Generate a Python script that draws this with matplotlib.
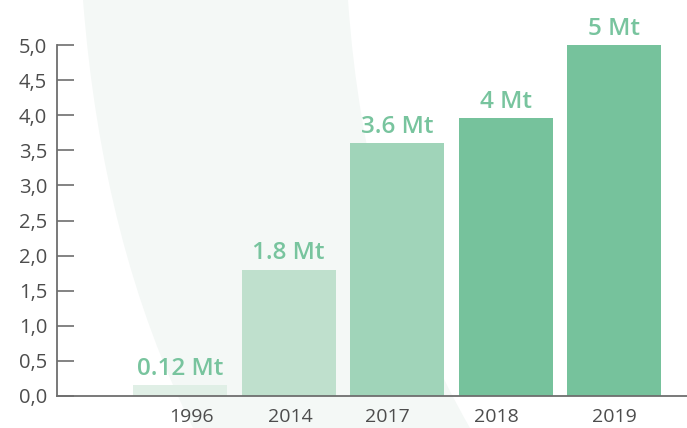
import matplotlib
matplotlib.use("Agg")
import matplotlib.pyplot as plt
from matplotlib.path import Path
from matplotlib.patches import PathPatch
import numpy as np

# ---- data ----
years = ["1996", "2014", "2017", "2018", "2019"]
values = [0.15, 1.8, 3.6, 3.96, 5.0]
value_labels = ["0.12 Mt", "1.8 Mt", "3.6 Mt", "4 Mt", "5 Mt"]
yticks = [0.0, 0.5, 1.0, 1.5, 2.0, 2.5, 3.0, 3.5, 4.0, 4.5, 5.0]
ytick_labels = ["0,0", "0,5", "1,0", "1,5", "2,0", "2,5", "3,0", "3,5", "4,0", "4,5", "5,0"]

# ---- styles ----
bar_colors = ["#e0efe6", "#bfe0cd", "#a0d4b9", "#76c29c", "#76c29c"]
label_color = "#78c49e"
axis_color = "#6e6e6e"
text_color = "#4d4d4d"
xlabel_shift = [0.11, 0.02, -0.09, -0.09, 0.0]

plt.rcParams["font.family"] = ["Open Sans", "DejaVu Sans"]

W, H = 687, 428
fig = plt.figure(figsize=(W / 100, H / 100), dpi=100)
fig.patch.set_facecolor("white")

# decorative background band
def fp(x, y):
    return (x / W, 1 - y / H)

verts = [fp(83, 0), fp(102, 246), fp(193, 428),
         fp(470, 428), fp(365, 246), fp(348, 0), fp(83, 0)]
codes = [Path.MOVETO, Path.CURVE3, Path.CURVE3,
         Path.LINETO, Path.CURVE3, Path.CURVE3, Path.CLOSEPOLY]
band = PathPatch(Path(verts, codes), facecolor="#f4f8f6", edgecolor="none",
                 transform=fig.transFigure, zorder=-5)
fig.patches.append(band)

ax = fig.add_axes([57 / W, 1 - 396 / H, 1 - 57 / W, 396 / H])
ax.set_facecolor("none")
ax.set_zorder(1)

x = np.arange(len(years))
bars = ax.bar(x, values, width=0.866, color=bar_colors, zorder=2)

for xi, v, lab in zip(x, values, value_labels):
    ax.annotate(lab, (xi, v), xytext=(0, 7.5), textcoords="offset points",
                ha="center", va="baseline", color=label_color,
                fontsize=17.5, fontweight="semibold")

ax.set_ylim(0, 396 / 70.2)
ax.set_xlim(-1.133, (W - 180) / 108.6)

ax.set_yticks(yticks)
ax.set_yticklabels(ytick_labels)
ax.tick_params(axis="y", direction="in", length=12.2, width=1.2, color=axis_color,
               labelsize=14.5, labelcolor=text_color, pad=7)

ax.set_xticks(x + np.array(xlabel_shift))
ax.set_xticklabels(years)
ax.tick_params(axis="x", length=0, labelsize=14, labelcolor=text_color, pad=8.5)

for s in ["top", "right"]:
    ax.spines[s].set_visible(False)
ax.spines["left"].set_bounds(0, 5)
ax.spines["left"].set_color(axis_color)
ax.spines["bottom"].set_color(axis_color)
ax.spines["left"].set_linewidth(1.3)
ax.spines["bottom"].set_linewidth(1.3)

fig.savefig("out.png", dpi=100)
